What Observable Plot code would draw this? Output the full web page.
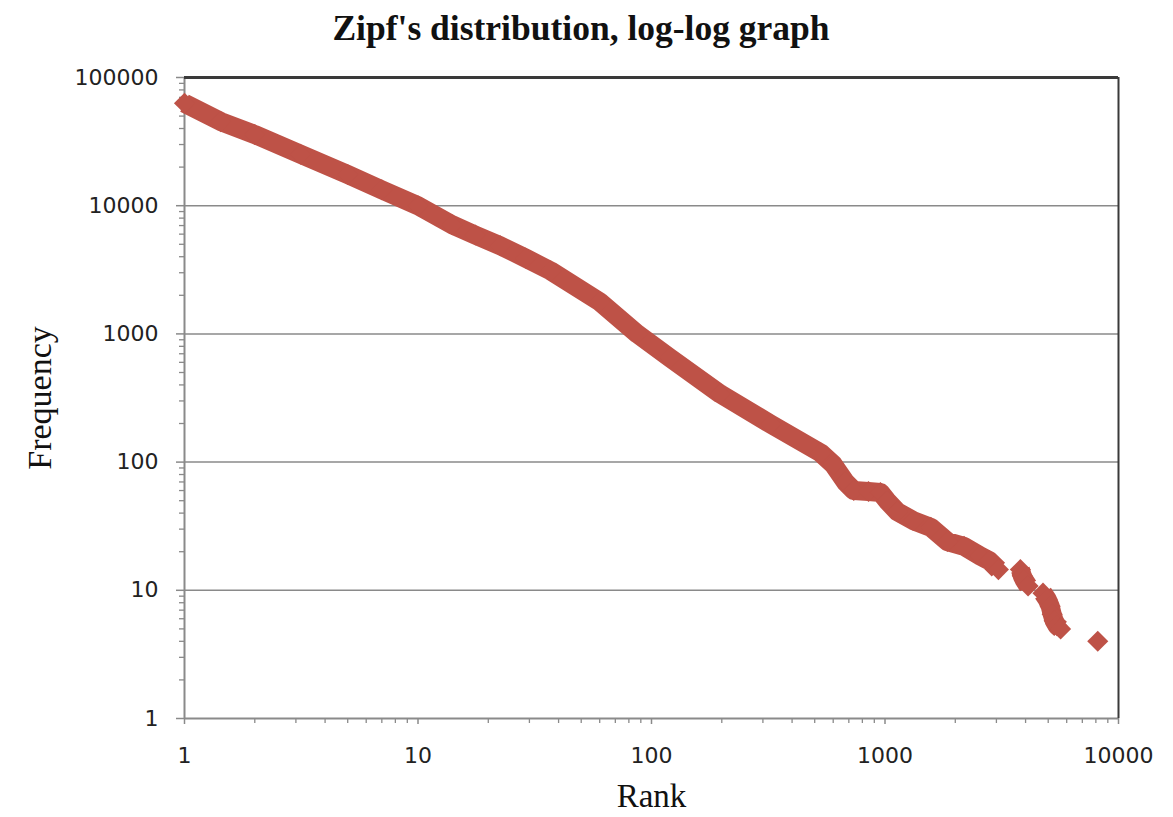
<!DOCTYPE html>
<html>
<head>
<meta charset="utf-8">
<script src="https://cdn.jsdelivr.net/npm/d3@7"></script>
<script src="https://cdn.jsdelivr.net/npm/@observablehq/plot@0.6"></script>
<style>
  html, body { margin: 0; padding: 0; background: #fff; }
  #title { height: 54px; line-height: 56px; text-align: center; padding-right: 11px;
           font-family: "Liberation Serif", serif; font-weight: bold; font-size: 35.5px; color: #111; }
  #chart svg { display: block; }
</style>
</head>
<body>
<div id="title">Zipf's distribution, log-log graph</div>
<div id="chart"></div>
<script>
// Values
const rank = [1, 1.43, 2, 3.14, 5, 7, 10, 14, 17.6, 22.5, 28.9, 37, 60, 87, 120, 197, 324, 530, 600, 676, 735, 850, 956, 1020, 1130, 1320, 1570, 1850, 2180, 2560, 2800, 3060,
              3800, 3870, 3950, 4100,
              4750, 4950, 5100, 5200, 5300, 5450, 5650,
              8150];
const frequency = [63000, 45300, 35900, 25200, 17500, 13300, 10000, 7100, 5900, 4870, 3900, 3100, 1780, 1000, 650, 340, 198, 118, 96, 70, 60, 59, 58, 50, 41, 35, 31, 24, 22, 18.5, 17, 14.5,
                   14.5, 13, 12, 10.8,
                   9.5, 8.5, 7.5, 6.5, 5.8, 5.3, 5.0,
                   4.0];
const segment = [...Array(32).fill("main"), ...Array(4).fill("c2"), ...Array(7).fill("c3"), "c4"];

const xMajorTicks = [1, 10, 100, 1000, 10000];
const yMajorTicks = [1, 10, 100, 1000, 10000, 100000];
const gridValues = [10, 100, 1000, 10000];
const minorMultipliers = [2, 3, 4, 5, 6, 7, 8, 9];

const data = rank.map((r, i) => ({rank: r, frequency: frequency[i], segment: segment[i]}));
const lineData = data.filter(d => d.segment !== "c4");
const minorX = xMajorTicks.slice(0, -1).flatMap(d => minorMultipliers.map(m => d * m));
const minorY = yMajorTicks.slice(0, -1).flatMap(d => minorMultipliers.map(m => d * m));

const red = "#BE5247";
const axisGray = "#8a8a8a";

const chart = Plot.plot({
  width: 1173,
  height: 763,
  marginTop: 23,
  marginBottom: 99,
  marginLeft: 184,
  marginRight: 55,
  x: {type: "log", domain: [1, 10000]},
  y: {type: "log", domain: [1, 100000]},
  style: {fontFamily: "'DejaVu Sans', sans-serif", fontSize: "22px", color: "#222", background: "#fff"},
  marks: [
    Plot.gridY(gridValues, {stroke: axisGray, strokeOpacity: 1, strokeWidth: 1.5}),
    Plot.axisY(minorY, {tickSize: 5, tickFormat: () => "", stroke: axisGray, label: null, strokeWidth: 1.3}),
    Plot.axisY(yMajorTicks, {tickSize: 8, tickPadding: 18, tickFormat: d => String(d), stroke: axisGray, label: null, strokeWidth: 1.5, letterSpacing: "1.2px"}),
    Plot.axisX(minorX, {tickSize: 5, tickFormat: () => "", stroke: axisGray, label: null, strokeWidth: 1.3}),
    Plot.axisX(xMajorTicks, {tickSize: 6, tickPadding: 23, tickFormat: d => String(d), stroke: axisGray, label: null, strokeWidth: 1.5, letterSpacing: "1.2px"}),
    Plot.ruleX([1], {stroke: axisGray, strokeWidth: 2}),
    Plot.ruleY([1], {stroke: axisGray, strokeWidth: 2}),
    Plot.ruleY([100000], {stroke: "#3a3a3a", strokeWidth: 3}),
    Plot.ruleX([10000], {stroke: "#3a3a3a", strokeWidth: 2}),
    Plot.line(lineData, {x: "rank", y: "frequency", z: "segment", stroke: red, strokeWidth: 19, strokeLinecap: "butt", strokeLinejoin: "round"}),
    Plot.dot(data, {x: "rank", y: "frequency", symbol: "diamond2", r: 9.5, fill: red}),
    Plot.text(["Rank"], {frameAnchor: "bottom", dy: 78, lineAnchor: "middle", fontFamily: "'Liberation Serif', serif", fontSize: 33, fill: "#111"}),
    Plot.text(["Frequency"], {frameAnchor: "left", dx: -144, rotate: -90, textAnchor: "middle", lineAnchor: "middle", fontFamily: "'Liberation Serif', serif", fontSize: 34, fill: "#111"})
  ]
});
document.getElementById("chart").appendChild(chart);
</script>
</body>
</html>
